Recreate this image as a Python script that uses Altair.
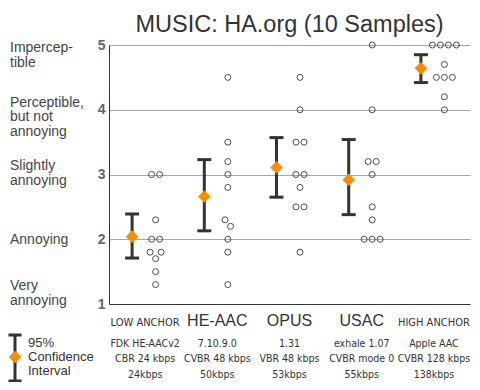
import math
from collections import Counter
import altair as alt
import pandas as pd

# ---------------- data ----------------
categories = ["LOW ANCHOR", "HE-AAC", "OPUS", "USAC", "HIGH ANCHOR"]
desc_line1 = ["FDK HE-AACv2", "7.10.9.0", "1.31", "exhale 1.07", "Apple AAC"]
desc_line2 = ["CBR 24 kbps", "CVBR 48 kbps", "VBR 48 kbps", "CVBR mode 0", "CVBR 128 kbps"]
desc_line3 = ["24kbps", "50kbps", "53kbps", "55kbps", "138kbps"]

scores_low = [3.0, 3.0, 2.3, 2.0, 2.0, 1.8, 1.8, 1.7, 1.5, 1.3]
scores_heaac = [4.5, 3.5, 3.2, 3.0, 2.8, 2.3, 2.2, 2.0, 1.8, 1.3]
scores_opus = [4.5, 4.0, 3.5, 3.5, 3.0, 3.0, 2.8, 2.5, 2.5, 1.8]
scores_usac = [5.0, 4.0, 3.2, 3.2, 3.0, 2.5, 2.3, 2.0, 2.0, 2.0]
scores_high = [5.0, 5.0, 5.0, 5.0, 4.7, 4.5, 4.5, 4.5, 4.2, 4.0]

means = [2.04, 2.66, 3.11, 2.92, 4.64]
ci_low = [1.71, 2.13, 2.65, 2.38, 4.42]
ci_high = [2.39, 3.23, 3.57, 3.54, 4.85]

scale_values = [5, 4, 3, 2, 1]
scale_names = [["Impercep-", "tible"], ["Perceptible,", "but not", "annoying"],
               ["Slightly", "annoying"], ["Annoying"], ["Very", "annoying"]]

legend_lines = ["95%", "Confidence", "Interval"]
title_text = "MUSIC: HA.org (10 Samples)"

# ---------------- layout ----------------
W, H = 361, 259
n = len(categories)
unit_x = W / n           # px per category
unit_y = H / 4.0         # px per score point
FONT = "Liberation Sans"
NARROW = "DejaVu Sans Condensed"


def swarm(vals, spacing=8.0, min_dist=8.5):
    """Return pixel x-offsets: equal values in centred rows, near rows pushed apart."""
    rows = sorted(Counter(vals).items(), reverse=True)
    row_sp = {v: spacing for v, _ in rows}
    row_shift = {v: 0.0 for v, _ in rows}
    for (va, na), (vb, nb) in zip(rows, rows[1:]):
        dy = (va - vb) * unit_y
        if dy >= min_dist:
            continue
        need = math.sqrt(min_dist ** 2 - dy ** 2)
        if na % 2 == 1 and nb % 2 == 1:
            row_shift[va] -= need / 2
            row_shift[vb] += need / 2
        elif na % 2 == 0 and nb % 2 == 1:
            row_sp[va] = max(row_sp[va], 2 * need)
        elif nb % 2 == 0 and na % 2 == 1:
            row_sp[vb] = max(row_sp[vb], 2 * need)
    counters = {v: 0 for v, _ in rows}
    cnt = dict(rows)
    out = []
    for v in vals:
        i = counters[v]
        counters[v] += 1
        out.append((i - (cnt[v] - 1) / 2) * row_sp[v] + row_shift[v])
    return out


all_scores = [scores_low, scores_heaac, scores_opus, scores_usac, scores_high]
rows = []
for i, (cat, vals) in enumerate(zip(categories, all_scores)):
    for v, off in zip(vals, swarm(vals)):
        rows.append({"cat": cat, "score": v, "xpos": i + off / unit_x})
pts = pd.DataFrame(rows)

stats = pd.DataFrame({"idx": list(range(n)), "cat": categories, "mean": means,
                      "lo": ci_low, "hi": ci_high})
labels = pd.DataFrame({"idx": list(range(n)), "name": categories,
                       "desc": [[a, b, c] for a, b, c in zip(desc_line1, desc_line2, desc_line3)]})

INK = "#333333"
xs = alt.Scale(domain=[-0.5, n - 0.5], nice=False, zero=False)
ys = alt.Scale(domain=[1, 5], nice=False, zero=False)
XAX = alt.Axis(labels=False, ticks=False, grid=False, title=None, domainColor=INK)
YAX = alt.Axis(values=[1, 2, 3, 4, 5], format="d", labelFont=FONT, labelFontSize=14,
               labelFontWeight="bold", labelColor="#666666", labelPadding=4,
               ticks=False, title=None, domainColor=INK, gridColor="#a8a8a8")


def X(f):
    return alt.X(f, scale=xs, axis=XAX, title=None)


def Y(f):
    return alt.Y(f, scale=ys, axis=YAX, title=None)


BAR_DX = -13
PT_DX = 10.5

points = alt.Chart(pts).mark_point(
    shape="circle", filled=False, size=36, strokeWidth=1, color="#4a4a4a",
    opacity=1, xOffset=PT_DX
).encode(x=X("xpos:Q"), y=Y("score:Q"))

bar = alt.Chart(stats).mark_rule(color=INK, strokeWidth=3, xOffset=BAR_DX).encode(
    x=X("idx:Q"), y=Y("lo:Q"), y2="hi:Q")
cap_lo = alt.Chart(stats).mark_tick(orient="horizontal", size=14, thickness=3, color=INK,
                                    opacity=1, xOffset=BAR_DX).encode(
    x=X("idx:Q"), y=Y("lo:Q"))
cap_hi = alt.Chart(stats).mark_tick(orient="horizontal", size=14, thickness=3, color=INK,
                                    opacity=1, xOffset=BAR_DX).encode(
    x=X("idx:Q"), y=Y("hi:Q"))
diamond = alt.Chart(stats).mark_point(shape="diamond", filled=True, size=160,
                                      color="#ff8c00", opacity=1, xOffset=BAR_DX).encode(
    x=X("idx:Q"), y=Y("mean:Q"))

names_main = alt.Chart(labels).transform_filter(
    "indexof(datum.name, 'ANCHOR') < 0").mark_text(
    font=FONT, fontSize=16, color=INK, align="center", baseline="alphabetic").encode(
    x=X("idx:Q"), y=alt.value(281), text="name:N")
names_anchor = alt.Chart(labels).transform_filter(
    "indexof(datum.name, 'ANCHOR') >= 0").mark_text(
    font=NARROW, fontSize=11, color=INK, align="center", baseline="alphabetic").encode(
    x=X("idx:Q"), y=alt.value(281), text="name:N")
descs = alt.Chart(labels).mark_text(
    font=NARROW, fontSize=10.5, lineHeight=15.5, color=INK, align="center",
    baseline="alphabetic").encode(
    x=X("idx:Q"), y=alt.value(301.5), text="desc")

title = alt.Chart(pd.DataFrame({"t": [title_text]})).mark_text(
    font=FONT, fontSize=23.5, color=INK, align="center", baseline="alphabetic").encode(
    x=alt.value(W / 2), y=alt.value(-13.5), text="t:N")

# scale-name labels on the left
name_dy = {5: 7.3, 4: -3.0, 3: -4.5, 2: 4.8, 1: -14.0}
name_layers = []
for v, lines in zip(scale_values, scale_names):
    d = pd.DataFrame({"value": [v], "lines": [lines]})
    name_layers.append(alt.Chart(d).mark_text(
        font=FONT, fontSize=14, lineHeight=14.5, color="#444444", align="left",
        baseline="alphabetic", dy=name_dy[v]).encode(
        x=alt.value(-99), y=Y("value:Q"), text="lines"))

# confidence-interval legend
leg = pd.DataFrame({"lines": [legend_lines]})
LX, LT, LB, LD = -94, 290, 336, 312
leg_bar = alt.Chart(leg).mark_rule(color=INK, strokeWidth=3).encode(
    x=alt.value(LX), y=alt.value(LT), y2=alt.value(LB))
leg_cap1 = alt.Chart(leg).mark_rule(color=INK, strokeWidth=3).encode(
    x=alt.value(LX - 6.5), x2=alt.value(LX + 6.5), y=alt.value(LT))
leg_cap2 = alt.Chart(leg).mark_rule(color=INK, strokeWidth=3).encode(
    x=alt.value(LX - 6.5), x2=alt.value(LX + 6.5), y=alt.value(LB))
leg_dia = alt.Chart(leg).mark_point(shape="diamond", filled=True, size=160,
                                    color="#ff8c00", opacity=1).encode(
    x=alt.value(LX), y=alt.value(LD))
leg_txt = alt.Chart(leg).mark_text(font=FONT, fontSize=13, lineHeight=14, color=INK,
                                   align="left", baseline="alphabetic").encode(
    x=alt.value(-81), y=alt.value(301.5), text="lines")

chart = alt.layer(
    points, bar, cap_lo, cap_hi, diamond, names_main, names_anchor, descs, title,
    *name_layers, leg_bar, leg_cap1, leg_cap2, leg_dia, leg_txt
).properties(
    width=W, height=H,
    padding={"left": 101, "top": 37, "right": 2, "bottom": 78},
    autosize=alt.AutoSizeParams(type="none"),
).configure(font=FONT).configure_view(stroke=None)

chart.save("out.html", embed_options={"renderer": "svg", "actions": False})
